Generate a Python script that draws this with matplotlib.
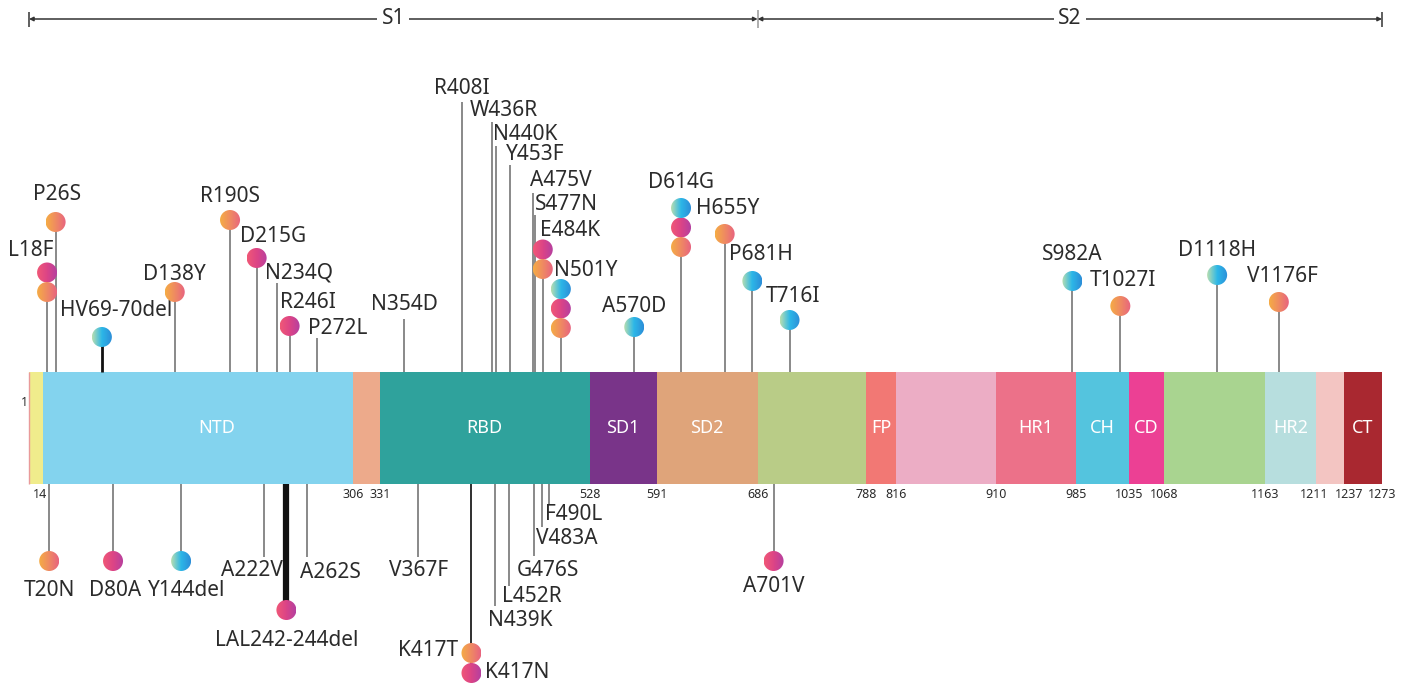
import numpy as np
import matplotlib.pyplot as plt
from matplotlib.patches import Ellipse
from matplotlib.colors import LinearSegmentedColormap

plt.rcParams['font.family'] = ['Noto Sans', 'DejaVu Sans']

# Spike protein domains (residue ranges)
dom_start = [1, 14, 306, 331, 528, 591, 686, 788, 816, 910, 985, 1035, 1068, 1163, 1211, 1237]
dom_end = [14, 306, 331, 528, 591, 686, 788, 816, 910, 985, 1035, 1068, 1163, 1211, 1237, 1273]
dom_name = ['', 'NTD', '', 'RBD', 'SD1', 'SD2', '', 'FP', '', 'HR1', 'CH', 'CD', '', 'HR2', '', 'CT']
dom_color = ['#F0EC8C', '#83D3EE', '#EDAA8B', '#2FA29C', '#793489', '#DFA47A', '#B9CC87',
             '#F27874', '#ECADC5', '#EC7189', '#54C4DE', '#EC4094', '#A9D490', '#B7DEDE',
             '#F3C5C2', '#A92830']
boundaries = [14, 306, 331, 528, 591, 686, 788, 816, 910, 985, 1035, 1068, 1163, 1211, 1237, 1273]

subunit_name = ['S1', 'S2']
subunit_start = [1, 686]
subunit_end = [686, 1273]

# Mutations above the bar
top_mut = ['L18F', 'P26S', 'HV69-70del', 'D138Y', 'R190S', 'D215G', 'N234Q', 'R246I', 'P272L',
           'N354D', 'R408I', 'W436R', 'N440K', 'Y453F', 'A475V', 'S477N', 'E484K', 'N501Y',
           'A570D', 'D614G', 'H655Y', 'P681H', 'T716I', 'S982A', 'T1027I', 'D1118H', 'V1176F']
top_res = [18, 26, 69.5, 138, 190, 215, 234, 246, 272, 354, 408, 436, 440, 453, 475, 477, 484,
           501, 570, 614, 655, 681, 716, 982, 1027, 1118, 1176]
top_dots = [['orange', 'pink'], ['orange'], ['blue'], ['orange'], ['orange'], ['pink'], [],
            ['pink'], [], [], [], [], [], [], [], [], ['orange', 'pink'],
            ['orange', 'pink', 'blue'], ['blue'], ['orange', 'pink', 'blue'], ['orange'],
            ['blue'], ['blue'], ['blue'], ['orange'], ['blue'], ['orange']]

# Mutations below the bar
bot_mut = ['T20N', 'D80A', 'Y144del', 'A222V', 'LAL242-244del', 'A262S', 'V367F', 'K417T',
           'K417N', 'N439K', 'L452R', 'G476S', 'V483A', 'F490L', 'A701V']
bot_res = [20, 80, 144, 222, 243, 262, 367, 417, 417, 439, 452, 476, 483, 490, 701]
bot_dots = [['orange'], ['pink'], ['blue'], [], ['pink'], [], [], ['orange'], ['pink'],
            [], [], [], [], [], ['pink']]

# ---- layout (figure pixels) ----
W, H = 1411, 683
PX = 1353 / 1272          # pixels per residue
X0 = 29                   # pixel of residue 1
BAR_TOP, BAR_BOT = 372, 484
R = 10                    # dot radius px
STEP = 19.5

top_end = [292, 222, 337, 292, 220, 258, 283, 326, 338, 319, 102, 122, 146, 165, 193, 215, 269,
           328, 327, 247, 234, 281, 320, 281, 306, 275, 302]
top_dx = [-16, 1, 14, 0, 0, 16, 22, 18, 20, 0, 0, 12, 29, 25, 28, 31, 27, 25, 0, 0, 3, 9, 3, 0,
          3, 0, 4]
top_ly = [251, 195, 311, 275, 196, 237, 273, 302, 328, 304, 88, 110, 135, 155, 180, 205, 230,
          270, 306, 183, 208, 255, 296, 255, 280, 250, 276]

bot_end = [561, 561, 561, 557, 610, 557, 557, 653, 673, 606, 586, 556, 527, 505, 561]
bot_dx = [0, 2, 6, -12, 0, 24, 0, -13, 14, 25, 23, 14, 25, 24, 0]
bot_ly = [591, 591, 591, 570, 640, 572, 570, 651, 672, 620, 596, 570, 539, 514, 587]
bot_ha = ['center'] * 7 + ['right', 'left'] + ['center'] * 6

# small pixel nudges for crowded boundary numbers
num_dx = {14: -3, 1211: -2, 1237: 5}

cmaps = {
    'orange': LinearSegmentedColormap.from_list('o', ['#F5AC45', '#EF8A62', '#E8647F']),
    'pink': LinearSegmentedColormap.from_list('p', ['#F05877', '#DC4486', '#B540A0']),
    'blue': LinearSegmentedColormap.from_list('b', ['#B8DEB0', '#2CB7E8', '#2C8ED8']),
}
TXT = '#2b2b2b'
STEM = '#6a6a6a'
grad = np.linspace(0, 1, 64).reshape(1, -1)

fig = plt.figure(figsize=(W / 100, H / 100), dpi=100)
ax = fig.add_axes([0, 0, 1, 1])
ax.axis('off')


def dot(x, y, kind):
    rx = R / PX
    ell = Ellipse((x, y), 2 * rx, 2 * R, fc='none', ec='none')
    ax.add_patch(ell)
    im = ax.imshow(grad, cmap=cmaps[kind], extent=[x - rx, x + rx, y + R, y - R],
                   aspect='auto', interpolation='bilinear', zorder=4)
    im.set_clip_path(ell)


# domain bar
widths = [e - s for s, e in zip(dom_start, dom_end)]
ax.bar(dom_start, BAR_BOT - BAR_TOP, width=widths, bottom=BAR_TOP, align='edge',
       color=dom_color, zorder=1)
ax.vlines(1, BAR_TOP, BAR_BOT, color='#E99A9A', lw=1, zorder=1.5)
for s, e, n in zip(dom_start, dom_end, dom_name):
    if n:
        xc = (s + e) / 2 + (17 if n == 'NTD' else 0)
        ax.text(xc, 428, n, color='white', fontsize=13, ha='center', va='center', zorder=2)
for b in boundaries:
    ax.text(b + num_dx.get(b, 0) / PX, 494, str(b), fontsize=9, color=TXT,
            ha='center', va='center')
ax.text(0.5, 402, '1', fontsize=9, color=TXT, ha='right', va='center')

# S1 / S2 bracket
YB = 19
for n, s, e in zip(subunit_name, subunit_start, subunit_end):
    for a in (s, e):
        ax.annotate('', xy=(a, YB), xytext=((s + e) / 2, YB),
                    arrowprops=dict(arrowstyle='-|>', color='#333333', lw=1.1,
                                    shrinkA=0, shrinkB=0, mutation_scale=6))
    ax.text((s + e) / 2, YB, n, fontsize=15, color=TXT, ha='center', va='center',
            bbox=dict(fc='white', ec='none', pad=3), zorder=3)
ax.vlines([subunit_start[0], subunit_end[-1]], 12, 27, color='#333333', lw=1.1)
ax.vlines(subunit_end[0], 10, 28, color='#999999', lw=1.1)

# top mutations
for name, r, dots, ye, dx, ly in zip(top_mut, top_res, top_dots, top_end, top_dx, top_ly):
    if 'del' in name:
        ax.vlines(r, BAR_TOP, ye, color='#111111', lw=2.0, zorder=2)
    else:
        ax.vlines(r, BAR_TOP, ye, color=STEM, lw=1.1, zorder=2)
    for k, kind in enumerate(dots):
        dot(r, ye - k * STEP, kind)
    ax.text(r + dx / PX, ly, name, fontsize=15, color=TXT, ha='center', va='center')

# bottom mutations
for name, r, dots, ye, dx, ly, ha in zip(bot_mut, bot_res, bot_dots, bot_end, bot_dx,
                                          bot_ly, bot_ha):
    if 'del' in name and '-' in name:
        ax.vlines(r, BAR_BOT, ye, color='#111111', lw=4.5, zorder=2)
    elif name.startswith('K417'):
        ax.vlines(r, BAR_BOT, ye, color='#333333', lw=1.3, zorder=2)
    else:
        ax.vlines(r, BAR_BOT, ye, color=STEM, lw=1.1, zorder=2)
    for k, kind in enumerate(dots):
        dot(r, ye + k * STEP, kind)
    ax.text(r + dx / PX, ly, name, fontsize=15, color=TXT, ha=ha, va='center')

ax.set_xlim(1 - X0 / PX, 1 + (W - X0) / PX)
ax.set_ylim(H, 0)

fig.savefig('out.png', dpi=100)
